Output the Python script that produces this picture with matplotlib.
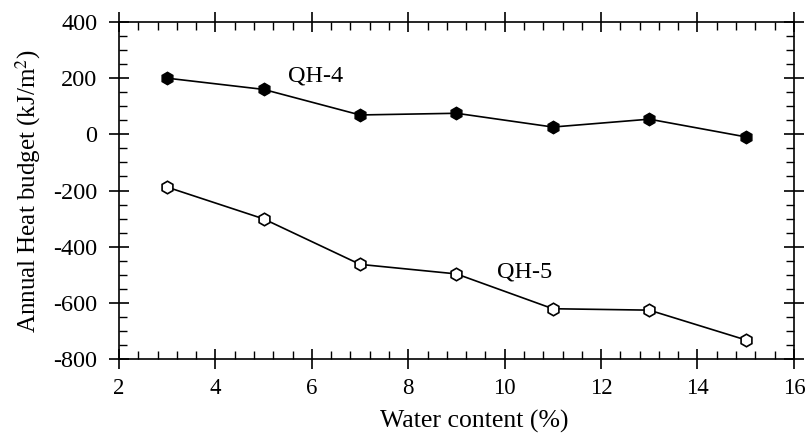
import matplotlib
matplotlib.use("Agg")
import matplotlib.pyplot as plt
from matplotlib.ticker import MultipleLocator

# data
water = [3, 5, 7, 9, 11, 13, 15]
qh4 = [200, 160, 69, 75, 26, 54, -9]
qh5 = [-188, -301, -463, -497, -621, -626, -732]

plt.rcParams['font.family'] = ['Liberation Serif', 'DejaVu Serif']
plt.rcParams['mathtext.fontset'] = 'stix'
plt.rcParams['axes.unicode_minus'] = False

fig = plt.figure(figsize=(8.06, 4.34), dpi=100)
ax = fig.add_axes([0.1476, 0.1728, 0.8374, 0.7765])

ax.plot(water, qh4, color='black', lw=1.2, marker='h', ms=9,
        mfc='black', mec='black')
ax.plot(water, qh5, color='black', lw=1.2, marker='h', ms=9,
        mfc='white', mec='black', mew=1.2)

ax.text(6.07, 208, "QH-4", fontsize=17.5, ha='center', va='center')
ax.text(10.42, -490, "QH-5", fontsize=17.5, ha='center', va='center')

ax.set_xlim(2, 16)
ax.set_ylim(-800, 400)
ax.xaxis.set_major_locator(MultipleLocator(2))
ax.xaxis.set_minor_locator(MultipleLocator(0.4))
ax.yaxis.set_major_locator(MultipleLocator(200))
ax.yaxis.set_minor_locator(MultipleLocator(50))

ax.tick_params(which='major', direction='inout', length=15, width=1.2,
               top=True, right=True, labeltop=False, labelright=False)
ax.tick_params(which='minor', direction='in', length=5.5, width=1.0,
               top=True, right=True)
ax.tick_params(axis='x', which='major', labelsize=16.5, pad=6)
ax.tick_params(axis='y', which='major', labelsize=17.5, pad=8)
for s in ax.spines.values():
    s.set_linewidth(1.2)

ax.set_xlabel("Water content (%)", fontsize=18.5, labelpad=8, x=0.527)
ax.set_ylabel("Annual Heat budget (kJ/m$^2$)", fontsize=18, labelpad=7)

fig.savefig("out.png", dpi=100)
